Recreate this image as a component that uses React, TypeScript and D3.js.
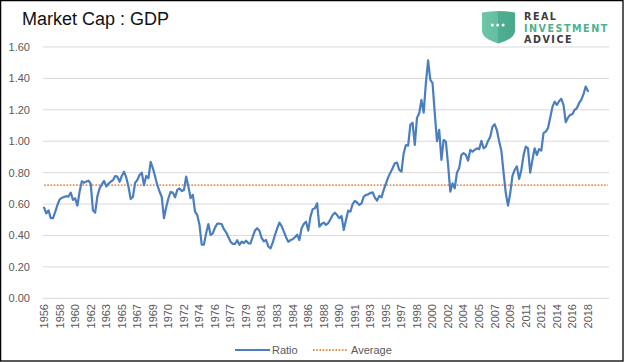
import React from "react";
import * as d3 from "d3";

// Market Cap : GDP ratio, quarterly from 1956 Q4
const ratio: number[] = [
  0.577, 0.54, 0.56, 0.51, 0.51, 0.55, 0.594, 0.63, 0.64, 0.645,
  0.65, 0.648, 0.673, 0.626, 0.637, 0.59, 0.68, 0.745, 0.736, 0.743,
  0.749, 0.73, 0.56, 0.545, 0.65, 0.70, 0.725, 0.748, 0.712, 0.73,
  0.742, 0.752, 0.778, 0.775, 0.742, 0.779, 0.806, 0.77, 0.711, 0.632,
  0.645, 0.735, 0.753, 0.785, 0.80, 0.72, 0.779, 0.764, 0.868, 0.828,
  0.775, 0.72, 0.68, 0.645, 0.51, 0.58, 0.637, 0.677, 0.673, 0.643,
  0.69, 0.70, 0.683, 0.69, 0.775, 0.711, 0.637, 0.658, 0.552, 0.53,
  0.467, 0.341, 0.342, 0.414, 0.473, 0.403, 0.414, 0.45, 0.475, 0.475,
  0.473, 0.44, 0.42, 0.39, 0.36, 0.346, 0.346, 0.37, 0.34, 0.36,
  0.352, 0.367, 0.35, 0.35, 0.392, 0.431, 0.446, 0.43, 0.385, 0.362,
  0.371, 0.33, 0.318, 0.354, 0.403, 0.445, 0.482, 0.46, 0.424, 0.389,
  0.36, 0.371, 0.376, 0.389, 0.405, 0.371, 0.446, 0.473, 0.488, 0.431,
  0.52, 0.567, 0.573, 0.605, 0.456, 0.473, 0.482, 0.467, 0.478, 0.503,
  0.53, 0.545, 0.53, 0.51, 0.524, 0.435, 0.499, 0.558, 0.552, 0.60,
  0.62, 0.61, 0.594, 0.605, 0.647, 0.658, 0.662, 0.67, 0.675, 0.641,
  0.622, 0.652, 0.643, 0.69, 0.73, 0.77, 0.80, 0.828, 0.86, 0.864,
  0.817, 0.806, 0.924, 0.976, 0.972, 1.104, 1.118, 0.976, 1.15, 1.178,
  1.263, 1.182, 1.37, 1.515, 1.39, 1.37, 1.178, 1.00, 1.072, 0.881,
  1.008, 0.997, 0.85, 0.679, 0.732, 0.70, 0.80, 0.83, 0.913, 0.924,
  0.913, 0.876, 0.945, 0.934, 0.945, 0.955, 0.949, 1.002, 0.955, 0.966,
  1.002, 1.029, 1.093, 1.108, 1.07, 1.0, 0.94, 0.80, 0.67, 0.59,
  0.669, 0.78, 0.817, 0.84, 0.76, 0.817, 0.91, 0.966, 0.955, 0.80,
  0.881, 0.955, 0.913, 0.95, 0.94, 1.051, 1.061, 1.083, 1.15, 1.217,
  1.252, 1.231, 1.255, 1.27, 1.231, 1.121, 1.15, 1.168, 1.172, 1.20,
  1.21, 1.242, 1.263, 1.30, 1.348, 1.32,
];

const averageValue = 0.72;

// quarterly categories on the axis (more categories than ratio points)
const startYear = 1956;
const startQuarter = 4;
const categoryCount = 255;
const categories: string[] = d3.range(categoryCount).map((i) => {
  const q = startQuarter - 1 + i;
  return `${startYear + Math.floor(q / 4)}Q${(q % 4) + 1}`;
});

const xTickLabels: string[] = [
  "1956", "1958", "1960", "1962", "1963", "1965", "1967", "1969", "1970",
  "1972", "1974", "1976", "1977", "1979", "1981", "1983", "1984", "1986",
  "1988", "1990", "1991", "1993", "1995", "1997", "1998", "2000", "2002",
  "2004", "2005", "2007", "2009", "2011", "2012", "2014", "2016", "2018",
];
const tickEvery = 7;

const yTicks: number[] = [0, 0.2, 0.4, 0.6, 0.8, 1.0, 1.2, 1.4, 1.6];

const logoLines: string[] = ["REAL", "INVESTMENT", "ADVICE"];

const W = 624;
const H = 362;
const plotLeft = 43;
const plotRight = 609;
const plotTop = 47;
const plotBottom = 298.3;

const FONT = "'Liberation Sans', Arial, sans-serif";
const TEXT = "#595959";
const BLUE = "#4a7ec0";
const ORANGE = "#ef8a47";

export default function App() {
  const x = d3
    .scaleBand<string>()
    .domain(categories)
    .range([plotLeft, plotRight])
    .paddingInner(0)
    .paddingOuter(0);
  const cx = (i: number) => (x(categories[i]) as number) + x.bandwidth() / 2;
  const y = d3.scaleLinear().domain([0, 1.6]).range([plotBottom, plotTop]);

  const ratioLine = d3
    .line<number>()
    .x((_, i) => cx(i))
    .y((d) => y(d))(ratio) as string;

  const avgData = categories.map(() => averageValue);
  const avgLine = d3
    .line<number>()
    .x((_, i) => cx(i))
    .y((d) => y(d))(avgData) as string;

  const logoFont = "'DejaVu Sans', 'Liberation Sans', sans-serif";
  const logoColors = ["#3d3d3d", "#4db08f", "#3d3d3d"];
  const logoBaselines = [20.3, 31.5, 42.7];

  return (
    <>
      <style>{`body{margin:0}`}</style>
      <svg width={W} height={H} style={{ display: "block", fontFamily: FONT }}>
        <rect x={0} y={0} width={W} height={H} fill="#ffffff" />
        <rect
          x={0.6}
          y={0.6}
          width={W - 1.6}
          height={H - 1.6}
          fill="none"
          stroke="#000"
          strokeWidth={1.3}
        />

        {/* Title */}
        <text x={22} y={25} fontSize={18} fill="#111">
          Market Cap : GDP
        </text>

        {/* Logo */}
        <g>
          <defs>
            <linearGradient id="shieldGrad" x1="0" x2="1" y1="0" y2="0">
              <stop offset="0" stopColor="#6fc6a8" />
              <stop offset="0.5" stopColor="#62bd9f" />
              <stop offset="0.5" stopColor="#4fae91" />
              <stop offset="1" stopColor="#4aa98c" />
            </linearGradient>
          </defs>
          <path
            d="M482,12.5 Q498.5,9.5 515,12.5 L515,31 Q515,38.5 498.5,43.5 Q482,38.5 482,31 Z"
            fill="url(#shieldGrad)"
          />
          <circle cx={492.3} cy={25} r={1.5} fill="#fff" />
          <circle cx={497.7} cy={25} r={1.5} fill="#fff" />
          <circle cx={503.1} cy={25} r={1.5} fill="#fff" />
          <g fontFamily={logoFont} fontWeight="bold" fontSize={9.6} letterSpacing={1.5}>
            {logoLines.map((t, i) => (
              <text key={t} x={524} y={logoBaselines[i]} fill={logoColors[i]}>
                {t}
              </text>
            ))}
          </g>
        </g>

        {/* Gridlines and y labels */}
        {yTicks.map((t) => (
          <g key={t}>
            <line
              x1={plotLeft}
              x2={plotRight}
              y1={y(t)}
              y2={y(t)}
              stroke="#d9d9d9"
              strokeWidth={1}
            />
            <text
              x={30}
              y={y(t)}
              dy="0.35em"
              textAnchor="end"
              fontSize={11}
              fill={TEXT}
            >
              {d3.format(".2f")(t)}
            </text>
          </g>
        ))}

        {/* x labels */}
        {xTickLabels.map((lab, k) => {
          const px = cx(k * tickEvery);
          return (
            <text
              key={lab + k}
              transform={`translate(${px},${304}) rotate(-90)`}
              dy="0.35em"
              textAnchor="end"
              fontSize={11}
              fill={TEXT}
            >
              {lab}
            </text>
          );
        })}

        {/* Average */}
        <path
          d={avgLine}
          fill="none"
          stroke={ORANGE}
          strokeWidth={1.8}
          strokeDasharray="1.6 1.6"
        />

        {/* Ratio */}
        <path
          d={ratioLine}
          fill="none"
          stroke={BLUE}
          strokeWidth={2.2}
          strokeLinejoin="round"
          strokeLinecap="round"
        />

        {/* Legend */}
        <line x1={235} x2={270} y1={350} y2={350} stroke={BLUE} strokeWidth={2.2} />
        <text x={272} y={350} dy="0.35em" fontSize={11} fill={TEXT}>
          Ratio
        </text>
        <line
          x1={313}
          x2={348}
          y1={350}
          y2={350}
          stroke={ORANGE}
          strokeWidth={1.8}
          strokeDasharray="1.6 1.6"
        />
        <text x={351} y={350} dy="0.35em" fontSize={11} fill={TEXT}>
          Average
        </text>
      </svg>
    </>
  );
}
